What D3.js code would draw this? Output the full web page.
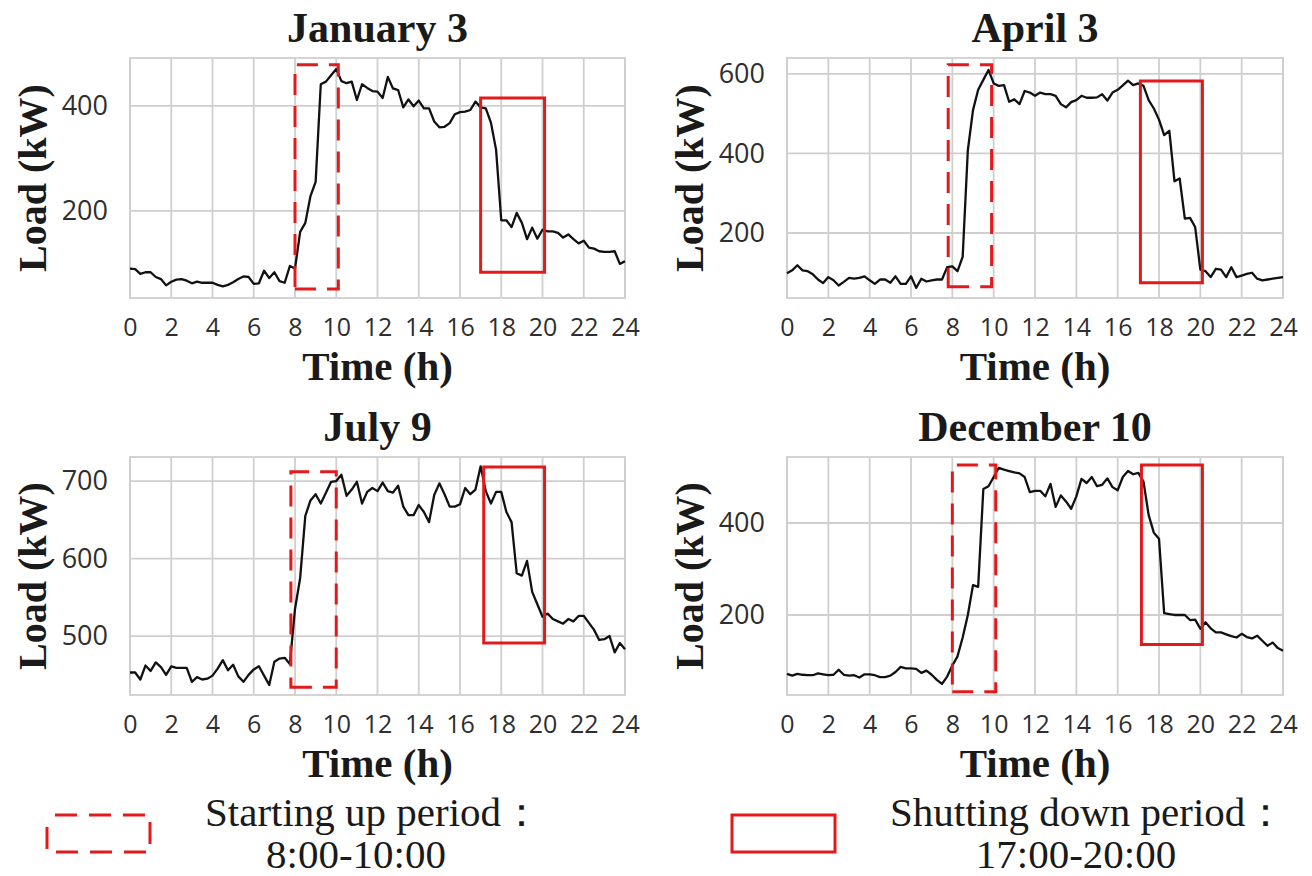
<!DOCTYPE html>
<html>
<head>
<meta charset="utf-8">
<script src="https://cdn.jsdelivr.net/npm/d3@7"></script>
<style>
  html, body { margin: 0; padding: 0; background: #fff; }
  svg { display: block; }
</style>
</head>
<body>
<svg id="chart" width="1312" height="876"></svg>
<script>
// ---------------- DATA ----------------
const titles = ["January 3", "April 3", "July 9", "December 10"];
const xTicks = [0, 2, 4, 6, 8, 10, 12, 14, 16, 18, 20, 22, 24];
const stepHours = 0.25; // 15-minute sampling

const jan3 = [90, 89, 80, 83, 83, 74, 70, 58, 65, 69, 70, 67, 62, 65, 63, 63, 63, 59, 56, 59,
  64, 70, 75, 74, 61, 62, 86, 72, 83, 66, 63, 95, 90, 160, 177, 228, 255, 441, 446, 458,
  470, 447, 443, 446, 411, 441, 434, 428, 427, 415, 455, 433, 430, 397, 412, 399, 410, 395, 395, 370,
  359, 360, 367, 384, 388, 389, 392, 408, 397, 395, 368, 316, 182, 182, 169, 196, 177, 146, 168, 147,
  164, 161, 161, 158, 149, 155, 146, 138, 143, 130, 128, 123, 122, 122, 123, 99, 104];

const apr3 = [99, 106, 119, 106, 104, 96, 83, 74, 89, 81, 68, 77, 87, 85, 87, 91, 81, 72, 83, 83,
  75, 91, 72, 72, 91, 62, 85, 78, 81, 83, 83, 114, 116, 104, 140, 408, 509, 560, 585, 610,
  576, 570, 572, 530, 536, 524, 557, 553, 545, 553, 549, 549, 545, 524, 516, 529, 534, 545, 540, 540,
  541, 549, 533, 553, 560, 571, 583, 572, 576, 570, 534, 513, 485, 446, 457, 330, 337, 236, 238, 215,
  108, 104, 89, 110, 108, 89, 114, 89, 93, 97, 100, 85, 81, 83, 85, 87, 89];

const jul9 = [453, 453, 444, 462, 455, 466, 460, 450, 461, 459, 459, 459, 441, 447, 444, 445, 449, 458, 469, 456,
  463, 448, 441, 450, 457, 461, 449, 437, 467, 471, 472, 464, 535, 575, 655, 675, 683, 671, 685, 699,
  700, 708, 681, 689, 699, 671, 686, 691, 687, 698, 687, 685, 694, 667, 656, 656, 669, 660, 647, 682,
  697, 683, 667, 667, 670, 691, 683, 689, 719, 687, 671, 686, 686, 660, 647, 581, 578, 597, 557, 541,
  525, 529, 522, 519, 516, 522, 519, 526, 526, 517, 508, 495, 496, 500, 479, 491, 483];

const dec10 = [72, 68, 72, 70, 69, 69, 73, 71, 69, 70, 81, 70, 68, 69, 64, 71, 71, 69, 65, 65,
  68, 76, 87, 84, 84, 83, 74, 79, 70, 59, 50, 66, 90, 110, 151, 200, 265, 261, 474, 480,
  500, 520, 516, 513, 510, 508, 500, 467, 470, 470, 458, 485, 435, 460, 447, 431, 458, 496, 487, 500,
  480, 483, 497, 478, 471, 500, 513, 506, 509, 490, 417, 379, 366, 204, 202, 200, 200, 200, 189, 190,
  170, 184, 171, 162, 162, 158, 154, 151, 159, 152, 149, 155, 144, 133, 140, 128, 122];

const series = [jan3, apr3, jul9, dec10];
const yTicks = [[200, 400], [200, 400, 600], [500, 600, 700], [200, 400]];
const yDomains = [[34, 491], [36.5, 640], [424, 731], [26, 543.5]];

// highlighted periods as drawn on each panel: [x0, x1, y0, y1] in data units
const startBoxes = [[8.0, 10.1, 51, 478], [7.8, 9.9, 65, 623], [7.8, 10.0, 434, 712], [8.0, 10.1, 33, 526]];
const shutBoxes  = [[17.0, 20.1, 83, 415], [17.1, 20.1, 75, 582], [17.15, 20.1, 491, 718], [17.15, 20.1, 136, 526]];

const legendLabels = [["Starting up period：", "8:00-10:00"], ["Shutting down period：", "17:00-20:00"]];

// ---------------- LAYOUT ----------------
const svg = d3.select("#chart");
const panels = [
  { x: 130, y: 58, w: 495, h: 240 },
  { x: 787, y: 58, w: 496, h: 240 },
  { x: 130, y: 457, w: 495, h: 238 },
  { x: 787, y: 457, w: 496, h: 238 }
];
const gridColor = "#cfcfcf";
const red = "#e31a1c";
const serif = "'Liberation Serif', 'Times New Roman', serif";
const sans = "'Open Sans', 'Noto Sans', sans-serif";

panels.forEach((p, k) => {
  const data = series[k].map((v, i) => ({ t: i * stepHours, v }));
  const x = d3.scaleLinear().domain([0, 24]).range([p.x, p.x + p.w]);
  const y = d3.scaleLinear().domain(yDomains[k]).range([p.y + p.h, p.y]);
  const g = svg.append("g");

  // grid
  g.append("g").selectAll("line").data(xTicks).join("line")
    .attr("x1", d => x(d)).attr("x2", d => x(d))
    .attr("y1", p.y).attr("y2", p.y + p.h)
    .attr("stroke", gridColor).attr("stroke-width", 1.8);
  g.append("g").selectAll("line").data(yTicks[k]).join("line")
    .attr("x1", p.x).attr("x2", p.x + p.w)
    .attr("y1", d => y(d)).attr("y2", d => y(d))
    .attr("stroke", gridColor).attr("stroke-width", 1.8);
  g.append("rect").attr("x", p.x).attr("y", p.y).attr("width", p.w).attr("height", p.h)
    .attr("fill", "none").attr("stroke", gridColor).attr("stroke-width", 1.8);

  // axes (tick labels only)
  const xAxis = d3.axisBottom(x).tickValues(xTicks).tickSize(0).tickPadding(20).tickFormat(d3.format("d"));
  const xa = g.append("g").attr("transform", `translate(0,${p.y + p.h})`).call(xAxis);
  xa.select(".domain").remove();
  xa.selectAll("text").attr("font-family", sans).attr("font-size", 25).attr("fill", "#2e2e2e");

  const yAxis = d3.axisLeft(y).tickValues(yTicks[k]).tickSize(0).tickPadding(22).tickFormat(d3.format("d"));
  const ya = g.append("g").attr("transform", `translate(${p.x},0)`).call(yAxis);
  ya.select(".domain").remove();
  ya.selectAll("text").attr("font-family", sans).attr("font-size", 27).attr("fill", "#2e2e2e");

  // load line
  const line = d3.line().x(d => x(d.t)).y(d => y(d.v));
  g.append("path").datum(data).attr("d", line)
    .attr("fill", "none").attr("stroke", "#111").attr("stroke-width", 2.3)
    .attr("stroke-linejoin", "round");

  // boxes (drawn from lower-left, like matplotlib patches)
  const boxPath = b => {
    const x0 = x(b[0]), x1 = x(b[1]), y0 = y(b[2]), y1 = y(b[3]);
    return `M${x0},${y0}L${x1},${y0}L${x1},${y1}L${x0},${y1}Z`;
  };
  g.append("path").attr("d", boxPath(startBoxes[k]))
    .attr("fill", "none").attr("stroke", red).attr("stroke-width", 3)
    .attr("stroke-dasharray", "21,11");
  g.append("path").attr("d", boxPath(shutBoxes[k]))
    .attr("fill", "none").attr("stroke", red).attr("stroke-width", 3);

  // title
  const cx = p.x + p.w / 2;
  g.append("text").attr("x", cx).attr("y", p.y - 16)
    .attr("text-anchor", "middle").attr("font-family", serif).attr("font-weight", "bold")
    .attr("font-size", 42).attr("fill", "#1a1a1a").text(titles[k]);

  // axis labels
  g.append("text").attr("x", cx).attr("y", p.y + p.h + 82)
    .attr("text-anchor", "middle").attr("font-family", serif).attr("font-weight", "bold")
    .attr("font-size", 41).attr("fill", "#1a1a1a").text("Time (h)");
  g.append("text")
    .attr("transform", `translate(${p.x - 84},${p.y + p.h / 2}) rotate(-90)`)
    .attr("text-anchor", "middle").attr("font-family", serif).attr("font-weight", "bold")
    .attr("font-size", 40).attr("fill", "#1a1a1a").text("Load (kW)");
});

// ---------------- LEGEND ----------------
const legendItems = [
  { rx: 47, tx: 205, cx: 356, dash: "22,12" },
  { rx: 732, tx: 890, cx: 1076, dash: null }
];
legendItems.forEach((it, k) => {
  const r = svg.append("rect").attr("x", it.rx).attr("y", 815).attr("width", 103).attr("height", 37)
    .attr("fill", "none").attr("stroke", red).attr("stroke-width", 3);
  if (it.dash) r.attr("stroke-dasharray", it.dash).attr("stroke-dashoffset", -8);
  svg.append("text").attr("x", it.tx).attr("y", 826)
    .attr("font-family", serif).attr("font-size", 41).attr("fill", "#1a1a1a").text(legendLabels[k][0]);
  svg.append("text").attr("x", it.cx).attr("y", 868).attr("text-anchor", "middle")
    .attr("font-family", serif).attr("font-size", 41).attr("fill", "#1a1a1a").text(legendLabels[k][1]);
});
</script>
</body>
</html>
